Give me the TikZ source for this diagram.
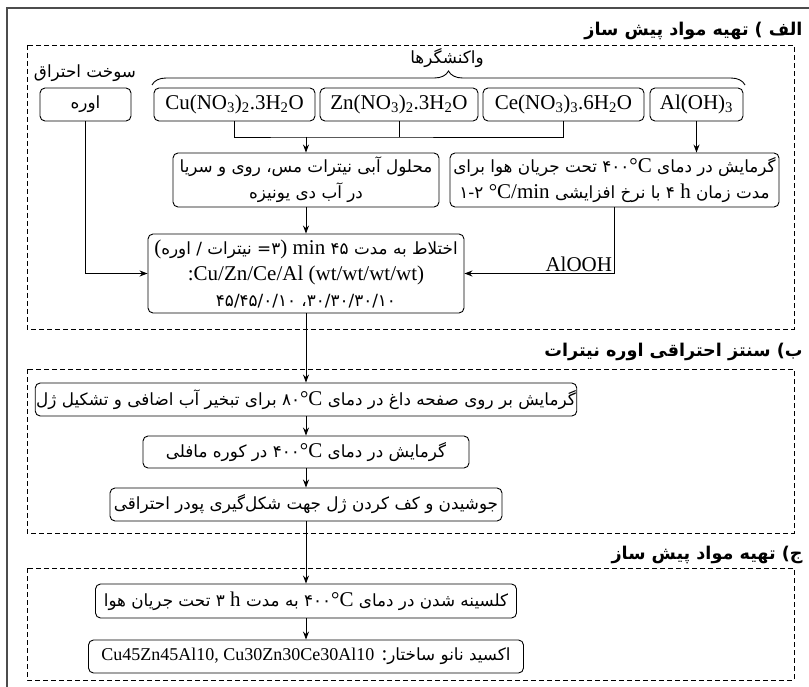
\documentclass[tikz,border=0pt]{standalone}
\usepackage{fontspec}
\setmainfont{Liberation Serif}
\newfontfamily\fafont[Script=Arabic,Scale=0.8]{DejaVu Sans}
\TeXXeTstate=1
\usetikzlibrary{
    arrows.meta,
    decorations.pathreplacing
}
\newcommand{\fa}[1]{{\fafont\beginR #1\endR}}
\newcommand{\fab}[1]{{\fafont\bfseries\beginR #1\endR}}
\newcommand{\la}[1]{{\rmfamily #1}}
\newcommand{\sub}[1]{\textsubscript{#1}}

\begin{document}
\begin{tikzpicture}[x=1pt, y=-1pt, >={Stealth[length=8pt,width=6pt]}, line width=0.9pt,
    stepbox/.style={draw, rounded corners=5pt, align=center, inner sep=1pt,
        font=\fontsize{21}{26}\selectfont},
    groupbox/.style={dash pattern=on 5pt off 3pt, line width=0.8pt},
    heading/.style={anchor=east, inner sep=0pt, font=\fontsize{22}{26}\selectfont},
    plain/.style={inner sep=0pt, font=\fontsize{21}{26}\selectfont}]

\useasboundingbox (0,0) rectangle (809,687);

% outer frame
\draw[black!70, line width=1.2pt] (7,687) -- (7,8) -- (809,8);

% section A: precursors
\node[heading] (headA) at (803,31) {\fab{الف ) تهیه مواد پیش ساز}};
\draw[groupbox] (27,45) rectangle (794,329);

\node[stepbox, minimum width=91pt, minimum height=33pt] (urea) at (85.5,104.5) {\fa{اوره}};
\node[plain] (fuel) at (85,73) {\fa{سوخت احتراق}};

\node[stepbox, minimum width=161pt, minimum height=33pt] (cu) at (234.5,104.5) {Cu(NO\sub{3})\sub{2}.3H\sub{2}O};
\node[stepbox, minimum width=158pt, minimum height=33pt] (zn) at (399,104.5) {Zn(NO\sub{3})\sub{2}.3H\sub{2}O};
\node[stepbox, minimum width=161pt, minimum height=33pt] (ce) at (563.5,104.5) {Ce(NO\sub{3})\sub{3}.6H\sub{2}O};
\node[stepbox, minimum width=93pt, minimum height=33pt] (al) at (696.5,104.5) {Al(OH)\sub{3}};

% reagents brace
\draw[decorate, decoration={brace, amplitude=14pt}] (152,85) -- (745,85);
\node[plain] (reag) at (447,58) {\fa{واکنشگرها}};

\node[stepbox, minimum width=266pt, minimum height=54pt] (sol) at (306,180)
    {\fa{محلول آبی نیترات مس، روی و سریا}\\ \fa{در آب دی یونیزه}};
\node[stepbox, minimum width=329pt, minimum height=54pt] (heat) at (614.5,180)
    {\fa{گرمایش در دمای \beginL ۴۰۰\la{°C}\endL{} تحت جریان هوا برای}\\
     \fa{مدت زمان \la{h} ۴ با نرخ افزایشی \la{°C/min} ۱-۲}};
\node[stepbox, minimum width=316pt, minimum height=79pt] (mix) at (306,273.5)
    {\fa{اختلاط به مدت ۴۵ \la{min} \la{)}۳= نیترات / اوره\la{(}}\\
     :Cu/Zn/Ce/Al (wt/wt/wt/wt)\\
     \fa{۳۰/۳۰/۳۰/۱۰{}، ۴۵/۴۵/۰/۱۰}};

\coordinate (join) at (306,137);
\draw (cu.south) |- (join) -| (ce.south);
\draw (zn.south) -- (zn.south |- join);
\draw[->] (join) -- (sol.north);
\draw[->] (al.south) -- (al.south |- heat.north);
\draw[->] (urea.south) |- (mix.west);
\draw[->] (heat.south) |- (mix.east)
    node[pos=0.5, anchor=south east, plain, xshift=-2pt, yshift=1pt] (alooh) {AlOOH};
\draw[->] (sol) -- (mix);

% section B: urea-nitrate combustion
\node[heading] (headB) at (803,352) {\fab{ب{}) سنتز احتراقی اوره نیترات}};
\draw[groupbox] (27,369) rectangle (794,533);

\node[stepbox, minimum width=540pt, minimum height=33pt] (hot) at (306,399.5)
    {\fa{گرمایش بر روی صفحه داغ در دمای \beginL ۸۰\la{°C}\endL{} برای تبخیر آب اضافی و تشکیل ژل}};
\node[stepbox, minimum width=326pt, minimum height=32pt] (muffle) at (306,452)
    {\fa{گرمایش در دمای \beginL ۴۰۰\la{°C}\endL{} در کوره مافلی}};
\node[stepbox, minimum width=392pt, minimum height=33pt] (foam) at (306,504.5)
    {\fa{جوشیدن و کف کردن ژل جهت شکل‌گیری پودر احتراقی}};

\draw[->] (mix) -- (hot);
\draw[->] (hot) -- (muffle);
\draw[->] (muffle) -- (foam);

% section C: calcination
\node[heading] (headC) at (803,555) {\fab{ج{}) تهیه مواد پیش ساز}};
\draw[groupbox] (27,568) rectangle (794,680);

\node[stepbox, minimum width=421pt, minimum height=34pt] (calc) at (306,601)
    {\fa{کلسینه شدن در دمای \beginL ۴۰۰\la{°C}\endL{} به مدت \la{h} ۳ تحت جریان هوا}};
\node[stepbox, minimum width=435pt, minimum height=33pt] (oxide) at (306,656.5)
    {\fa{اکسید نانو ساختار\la{:} \beginL{\fontsize{18}{22}\selectfont\la{Cu45Zn45Al10, Cu30Zn30Ce30Al10}}\endL}};

\draw[->] (foam) -- (calc);
\draw[->] (calc) -- (oxide);

\end{tikzpicture}
\end{document}
